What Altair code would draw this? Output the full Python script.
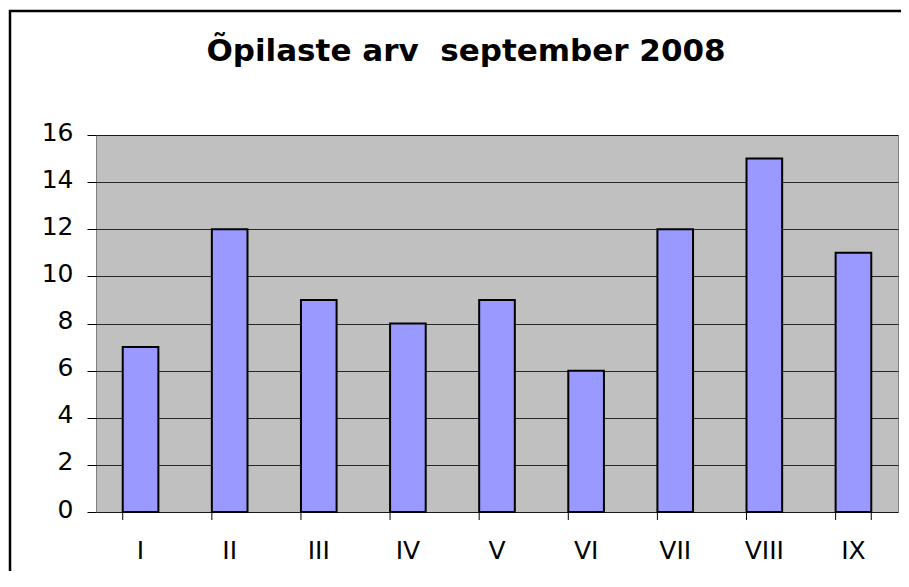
import altair as alt
import pandas as pd

categories = ["I", "II", "III", "IV", "V", "VI", "VII", "VIII", "IX"]
values = [7, 12, 9, 8, 9, 6, 12, 15, 11]
y_ticks = [0, 2, 4, 6, 8, 10, 12, 14, 16]
title_text = ["Õpilaste arv \u00a0september 2008"]

df = pd.DataFrame({"cat": categories, "val": values})
tdf = pd.DataFrame({"t": title_text})

W, H = 802, 377
FONT = "DejaVu Sans"

xscale = alt.Scale(domain=categories, paddingInner=0.6, paddingOuter=0.3)
yscale = alt.Scale(domain=[0, 16], nice=False)

bars = alt.Chart(df).mark_bar(
    fill="#9999FF", stroke="#000000", strokeWidth=2
).encode(
    x=alt.X("cat:N", scale=xscale, sort=categories,
            axis=alt.Axis(title=None, ticks=False, domain=False, grid=False,
                          labelAngle=0, labelFont=FONT, labelFontSize=25,
                          labelColor="#000000", labelPadding=26)),
    y=alt.Y("val:Q", scale=yscale,
            axis=alt.Axis(title=None, values=y_ticks, grid=True, gridColor="#000000",
                          gridOpacity=0.8, gridWidth=1, domain=False,
                          tickColor="#000000", tickSize=9, tickWidth=1,
                          labelFont=FONT, labelFontSize=25, labelColor="#000000",
                          labelPadding=14, labelOffset=-3)),
)

xticks = alt.Chart(df).mark_rule(color="#000000", strokeWidth=1).encode(
    x=alt.X("cat:N", scale=xscale, sort=categories, bandPosition=0),
    y=alt.value(H), y2=alt.value(H + 8),
)
last_tick = alt.Chart(df.tail(1)).mark_rule(color="#000000", strokeWidth=1).encode(
    x=alt.X("cat:N", scale=xscale, sort=categories, bandPosition=1),
    y=alt.value(H), y2=alt.value(H + 8),
)

frame = alt.Chart(df.head(1)).mark_rect(
    fill=None, stroke="#000000", strokeWidth=2.5
).encode(
    x=alt.value(-86), x2=alt.value(900), y=alt.value(-124), y2=alt.value(600)
)

title = alt.Chart(tdf).mark_text(
    font=FONT, fontSize=31, fontWeight="bold", color="#000000",
    align="center", baseline="alphabetic"
).encode(
    text="t:N", x=alt.value(W / 2 - 31), y=alt.value(-74)
)

chart = alt.layer(frame, bars, xticks, last_tick, title).properties(
    width=W, height=H,
    autosize=alt.AutoSizeParams(type="none"),
    padding={"left": 88, "top": 127, "right": 3, "bottom": 59},
).configure(background="#FFFFFF").configure_view(
    fill="#C0C0C0", stroke="#808080", strokeWidth=1
)

chart.save("out.html", embed_options={"renderer": "svg", "actions": False})
